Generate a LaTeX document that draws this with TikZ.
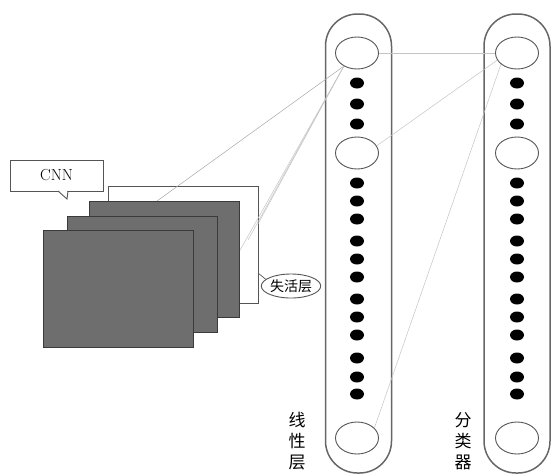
\documentclass[tikz,border=0pt]{standalone}
\usepackage{fontspec}
\newfontfamily\cjk{Noto Sans CJK SC}
\usetikzlibrary{shapes.geometric}
\definecolor{capgray}{HTML}{666666}
\definecolor{ellgray}{HTML}{555555}
\definecolor{mapfill}{HTML}{6E6E6E}
\definecolor{mapedge}{HTML}{3A3A3A}
\definecolor{linkgray}{HTML}{A8A8A8}
\definecolor{faintgray}{HTML}{C4C4C4}
\begin{document}
\begin{tikzpicture}[x=1pt,y=-1pt,
  capsule/.style={draw=capgray, line width=1.5pt, rounded corners=32pt,
    minimum width=66pt, minimum height=459pt, inner sep=0pt},
  unit/.style={draw=ellgray, line width=0.9pt, ellipse,
    minimum width=43pt, minimum height=32pt, inner sep=0pt},
  dot/.style={fill=black, ellipse, minimum width=14pt, minimum height=11pt, inner sep=0pt},
  fmap/.style={draw=mapedge, fill=mapfill, line width=0.9pt, anchor=north west,
    minimum width=150pt, minimum height=116pt, inner sep=0pt},
  backmap/.style={draw=ellgray, fill=white, line width=0.9pt, anchor=north west,
    minimum width=150pt, minimum height=117pt, inner sep=0pt},
  link/.style={draw=linkgray, line width=0.5pt},
  faint/.style={draw=faintgray, line width=0.5pt},
  vlabel/.style={align=center, font=\cjk\fontsize{17}{21}\selectfont, inner sep=0pt},
]
\useasboundingbox (0,0) rectangle (552,475);

% columns
\node[capsule] (lin) at (358.5,243.5) {};
\node[capsule] (cls) at (517,243.5) {};

% units of the linear layer
\node[unit] (lt) at (357,53) {};
\node[unit] (lm) at (357,153) {};
\node[unit] (lb) at (357,438) {};
% units of the classifier
\node[unit] (ct) at (517,53) {};
\node[unit] (cm) at (517,153) {};
\node[unit] (cb) at (517,438) {};

% dots
\foreach \yy [count=\i] in {83,104,124,183,201,219,241,259,277,299,317,335,358,377,394}{
  \node[dot] (ld\i) at (357,\yy) {};
  \node[dot] (cd\i) at (517,\yy) {};
}

% labels
\node[vlabel] (linlab) at (297,441) {线\\性\\层};
\node[vlabel] (clslab) at (463,441) {分\\类\\器};

% back (dropout) map
\node[backmap] (m0) at (108,186) {};

% links from CNN to linear layer
\coordinate (e1) at (157,201);
\coordinate (e2) at (239,252);
\coordinate (e3) at (248,240);
\coordinate (e4) at (258,224);
\draw[link] (lt.225) -- (e1);
\draw[faint] (lt.225) -- (e2);
\draw[faint] (lt.225) -- (e3);
\draw[faint] (lt.225) -- (e4);

% links from linear layer to classifier
\draw[faint] (lt.east) -- (ct.west);
\draw[faint] (ct.200) -- (lm.20);
\draw[faint] (ct.215) -- (lb.30);

% feature maps
\node[fmap] (m3) at (89,201) {};
\node[fmap] (m2) at (67,216) {};
\node[fmap, minimum height=117pt] (m1) at (43,230) {};

% CNN callout
\node[draw=ellgray, fill=white, line width=0.9pt, minimum width=93pt, minimum height=31pt,
  inner sep=0pt, font=\fontsize{16}{16}\selectfont] (cnn) at (56.5,175.5) {CNN};
\coordinate (tailtip) at (67,199);
\fill[white] (58.5,190.5) -- (tailtip) -- (67.5,190.5) -- cycle;
\draw[draw=ellgray, line width=0.9pt] (58,191) -- (tailtip) -- (68,191);

% dropout callout
\node[draw=ellgray, line width=0.9pt, ellipse, minimum width=54pt, minimum height=24pt,
  inner sep=0pt, font=\cjk\fontsize{14}{14}\selectfont] (drop) at (291,286) {失活层};
\coordinate (droptail) at (258,273);
\draw[draw=ellgray, line width=0.7pt] (droptail) -- (drop.165);
\end{tikzpicture}
\end{document}
